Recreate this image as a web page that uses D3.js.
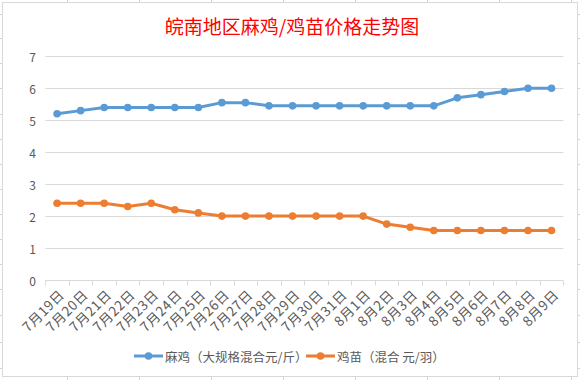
<!DOCTYPE html>
<html>
<head>
<meta charset="utf-8">
<script src="https://cdn.jsdelivr.net/npm/d3@7"></script>
<style>
  body { margin: 0; background: #fff; }
  text { font-family: "Noto Sans CJK SC", "Noto Sans", sans-serif; }
</style>
</head>
<body>
<svg id="chart" width="580" height="380"></svg>
<script>
// chart data
var dates = ["7月19日", "7月20日", "7月21日", "7月22日", "7月23日", "7月24日", "7月25日", "7月26日",
    "7月27日", "7月28日", "7月29日", "7月30日", "7月31日", "8月1日", "8月2日", "8月3日",
    "8月4日", "8月5日", "8月6日", "8月7日", "8月8日", "8月9日"];
var maji = [5.2, 5.3, 5.4, 5.4, 5.4, 5.4, 5.4, 5.55, 5.55, 5.45, 5.45, 5.45, 5.45, 5.45,
    5.45, 5.45, 5.45, 5.7, 5.8, 5.9, 6.0, 6.0];
var jimiao = [2.4, 2.4, 2.4, 2.3, 2.4, 2.2, 2.1, 2.0, 2.0, 2.0, 2.0, 2.0, 2.0, 2.0,
    1.75, 1.65, 1.55, 1.55, 1.55, 1.55, 1.55, 1.55];
var yTicks = [0, 1, 2, 3, 4, 5, 6, 7];
var seriesNames = ["麻鸡（大规格混合元/斤）", "鸡苗（混合 元/羽）"];
var seriesColors = ["#5b9bd5", "#ed7d31"];
var title = "皖南地区麻鸡/鸡苗价格走势图";

const svg = d3.select("#chart");
const gridColor = "#d9d9d9",
    textColor = "#595959";

// spreadsheet cells behind the chart
var cellCols = [67, 139, 211, 283, 355, 427, 499, 571];
var cellRows = [14, 38, 63, 88, 114, 139, 164, 189, 214, 239, 264, 289, 315, 342, 368];
svg.selectAll("line.cellV").data(cellCols).enter().append("line")
    .attr("x1", d => d + 0.5).attr("x2", d => d + 0.5)
    .attr("y1", 0).attr("y2", 380)
    .attr("stroke", "#d4d4d4");
svg.selectAll("line.cellH").data(cellRows).enter().append("line")
    .attr("y1", d => d + 0.5).attr("y2", d => d + 0.5)
    .attr("x1", 0).attr("x2", 580)
    .attr("stroke", "#d4d4d4");

// chart box
svg.append("rect")
    .attr("x", 2.5).attr("y", 2.5)
    .attr("width", 575).attr("height", 374)
    .attr("fill", "#fff")
    .attr("stroke", gridColor);

// title
svg.append("text")
    .attr("x", 292).attr("y", 25)
    .attr("text-anchor", "middle")
    .attr("dominant-baseline", "central")
    .attr("fill", "#ff0000")
    .style("font-size", "19px")
    .text(title);

// Scales
const x = d3.scaleBand()
    .domain(dates)
    .range([45.3, 563.3]);

const y = d3.scaleLinear()
    .domain([0, 7])
    .range([280, 56.3]);

const cx = d => x(d) + x.bandwidth() / 2;

// gridlines
svg.selectAll("line.grid").data(yTicks.filter(t => t > 0)).enter().append("line")
    .attr("x1", x.range()[0]).attr("x2", x.range()[1])
    .attr("y1", d => Math.round(y(d)) + 0.5).attr("y2", d => Math.round(y(d)) + 0.5)
    .attr("stroke", gridColor);

// y labels
svg.selectAll("text.ylab").data(yTicks).enter().append("text")
    .attr("x", 36).attr("y", d => y(d))
    .attr("text-anchor", "end")
    .attr("dominant-baseline", "central")
    .attr("fill", textColor)
    .style("font-size", "12px")
    .text(d => d);

//Add x-axis
const xAxis = svg.append("g")
    .attr("transform", "translate(0," + (Math.round(y(0)) + 0.5) + ")");
xAxis.append("line")
    .attr("x1", x.range()[0]).attr("x2", x.range()[1])
    .attr("stroke", gridColor);
var boundaries = dates.map(d => x(d)).concat([x.range()[1]]);
xAxis.selectAll("line.tick").data(boundaries).enter().append("line")
    .attr("x1", d => Math.round(d) + 0.5).attr("x2", d => Math.round(d) + 0.5)
    .attr("y1", 0).attr("y2", 5)
    .attr("stroke", gridColor);

xAxis.selectAll("text").data(dates).enter().append("text")
    .attr("transform", d => "translate(" + (cx(d) + 4) + ",11) rotate(-45)")
    .attr("text-anchor", "end")
    .attr("dominant-baseline", "central")
    .attr("fill", textColor)
    .style("font-size", "13.5px")
    .style("letter-spacing", "0.6px")
    .text(d => d);

// lines
[maji, jimiao].forEach(function (vals, i) {
    const line = d3.line()
        .x((v, j) => cx(dates[j]))
        .y(v => y(v));
    svg.append("path")
        .datum(vals)
        .attr("d", line)
        .attr("fill", "none")
        .attr("stroke", seriesColors[i])
        .attr("stroke-width", 3)
        .attr("stroke-linejoin", "round");
    svg.selectAll("circle.s" + i).data(vals).enter().append("circle")
        .attr("class", "s" + i)
        .attr("cx", (v, j) => cx(dates[j]))
        .attr("cy", v => y(v))
        .attr("r", 3.8)
        .attr("fill", seriesColors[i]);
});

// legend
var legendX = [134, 306];
seriesNames.forEach(function (name, i) {
    const lg = svg.append("g")
        .attr("transform", "translate(" + legendX[i] + ",356)");
    lg.append("line")
        .attr("x1", 0).attr("x2", 29)
        .attr("stroke", seriesColors[i])
        .attr("stroke-width", 3);
    lg.append("circle")
        .attr("cx", 14.5).attr("r", 3.8)
        .attr("fill", seriesColors[i]);
    lg.append("text")
        .attr("x", 31)
        .attr("dominant-baseline", "central")
        .attr("fill", textColor)
        .style("font-size", "12.5px")
        .text(name);
});
</script>
</body>
</html>
